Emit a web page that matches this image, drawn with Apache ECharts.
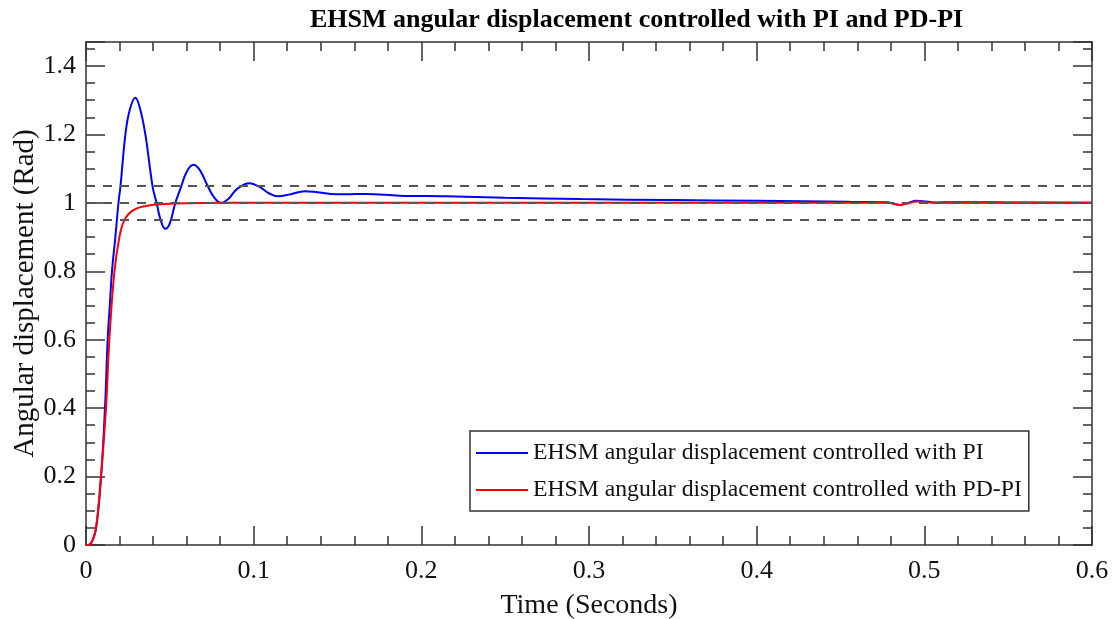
<!DOCTYPE html>
<html>
<head>
<meta charset="utf-8">
<script src="https://cdn.jsdelivr.net/npm/echarts@6/dist/echarts.min.js"></script>
<style>
  html, body { margin: 0; padding: 0; background: #fff; }
  #chart { width: 1114px; height: 619px; }
</style>
</head>
<body>
<div id="chart"></div>
<script>
// PI controller response (time in s, angle in rad)
const piTime = [0, 0.003, 0.006, 0.009, 0.0115, 0.0129, 0.0142, 0.0155, 0.0175, 0.0195,
  0.0205, 0.0235, 0.026, 0.0294, 0.032, 0.0354, 0.0398, 0.0421, 0.0445, 0.0473,
  0.050, 0.0533, 0.0566, 0.060, 0.064, 0.068, 0.072, 0.0765, 0.0805, 0.085,
  0.090, 0.0975, 0.104, 0.109, 0.1145, 0.121, 0.1306, 0.138, 0.146, 0.155,
  0.167, 0.187, 0.215, 0.25, 0.295, 0.35, 0.40, 0.455, 0.478, 0.4854,
  0.490, 0.4953, 0.501, 0.507, 0.515, 0.53, 0.55, 0.6];
const piValue = [0, 0.005, 0.05, 0.2, 0.42, 0.6, 0.7, 0.8, 0.9, 1.006,
  1.045, 1.2, 1.27, 1.307, 1.28, 1.2, 1.045, 1.0, 0.95, 0.924,
  0.94, 1.0, 1.045, 1.09, 1.111, 1.095, 1.055, 1.015, 1.0, 1.012,
  1.04, 1.057, 1.045, 1.028, 1.019, 1.024, 1.034, 1.031, 1.026, 1.025,
  1.026, 1.021, 1.019, 1.015, 1.011, 1.008, 1.006, 1.003, 1.002, 0.994,
  0.999, 1.006, 1.004, 1.001, 1.002, 1.002, 1.001, 1.0];

// PD-PI controller response
const pdpiTime = [0, 0.002, 0.004, 0.006, 0.0089, 0.0119, 0.0139, 0.0169, 0.0199, 0.0228,
  0.0278, 0.0358, 0.0447, 0.06, 0.1, 0.2, 0.3, 0.4, 0.478, 0.4854,
  0.490, 0.4953, 0.501, 0.507, 0.6];
const pdpiValue = [0, 0.0, 0.015, 0.049, 0.199, 0.398, 0.598, 0.797, 0.899, 0.948,
  0.977, 0.991, 0.996, 0.999, 1.0, 1.0, 1.0, 1.0, 1.0, 0.994,
  0.998, 1.004, 1.002, 1.0, 1.0];

// dashed reference band (±5%)
const refLevels = [0.95, 1.0, 1.05];

const xTicks = { min: 0, max: 0.6, interval: 0.1 };
const yTicks = { min: 0, max: 1.47, interval: 0.2 };

const FONT = 'Liberation Serif';
const AXIS_COLOR = '#333';

function pairs(xs, ys) {
  return xs.map((x, i) => [x, ys[i]]);
}

function makeAxis(base, extra) {
  return Object.assign({
    type: 'value',
    min: base.min,
    max: base.max,
    interval: base.interval,
    splitLine: { show: false },
    axisLine: { show: true, onZero: false, lineStyle: { color: AXIS_COLOR, width: 1.5 } },
    axisTick: { show: true, inside: true, length: 19, lineStyle: { color: AXIS_COLOR, width: 1.5 } }
  }, extra);
}

function minor(n) {
  return { show: true, splitNumber: n, length: 9, lineStyle: { color: AXIS_COLOR, width: 1.5 } };
}

const chart = echarts.init(document.getElementById('chart'));

const option = {
  animation: false,
  backgroundColor: '#fff',
  title: {
    text: 'EHSM angular displacement controlled with PI and PD-PI',
    left: 305,
    top: 2,
    textStyle: { fontFamily: FONT, fontWeight: 'bold', fontSize: 26, color: '#000' }
  },
  grid: { left: 86, right: 22, top: 42, bottom: 74, outerBoundsMode: 'none', containLabel: false },
  legend: {
    orient: 'vertical',
    left: 470,
    top: 431,
    padding: [9, 7, 8, 6],
    itemGap: 11,
    itemWidth: 52,
    itemHeight: 2,
    icon: 'rect',
    borderColor: '#333',
    borderWidth: 1.5,
    textStyle: { fontFamily: FONT, fontSize: 23.7, color: '#111', lineHeight: 26 },
    data: ['EHSM angular displacement controlled with PI', 'EHSM angular displacement controlled with PD-PI']
  },
  xAxis: [
    makeAxis(xTicks, {
      position: 'bottom',
      name: 'Time (Seconds)',
      nameLocation: 'middle',
      nameGap: 47,
      nameTextStyle: { fontFamily: FONT, fontSize: 28, color: '#111' },
      axisLabel: { fontFamily: FONT, fontSize: 26, color: '#111', margin: 13 },
      minorTick: minor(5)
    }),
    makeAxis(xTicks, {
      position: 'top',
      axisLabel: { show: false },
      minorTick: minor(5)
    })
  ],
  yAxis: [
    makeAxis(yTicks, {
      position: 'left',
      name: 'Angular displacement (Rad)',
      nameLocation: 'middle',
      nameGap: 46,
      nameMoveOverlap: false,
      nameTextStyle: { fontFamily: FONT, fontSize: 29, color: '#111' },
      axisLabel: { fontFamily: FONT, fontSize: 26, color: '#111', margin: 10, showMaxLabel: false },
      minorTick: minor(4)
    }),
    makeAxis(yTicks, {
      position: 'right',
      axisLabel: { show: false },
      minorTick: minor(4)
    })
  ],
  series: [
    {
      name: 'EHSM angular displacement controlled with PI',
      type: 'line',
      data: pairs(piTime, piValue),
      symbol: 'none',
      smooth: 0.4,
      lineStyle: { color: '#0000ff', width: 2 },
      itemStyle: { color: '#0000ff' },
      z: 2
    },
    {
      name: 'EHSM angular displacement controlled with PD-PI',
      type: 'line',
      data: pairs(pdpiTime, pdpiValue),
      symbol: 'none',
      smooth: 0.4,
      lineStyle: { color: '#ff0000', width: 2 },
      itemStyle: { color: '#ff0000' },
      z: 3
    },
    {
      name: 'ref',
      type: 'line',
      data: [],
      z: 4,
      markLine: {
        silent: true,
        symbol: 'none',
        label: { show: false },
        lineStyle: { color: '#555', width: 1.8, type: [9, 8] },
        data: refLevels.map(v => ({ yAxis: v }))
      }
    }
  ]
};

chart.setOption(option);
</script>
</body>
</html>
